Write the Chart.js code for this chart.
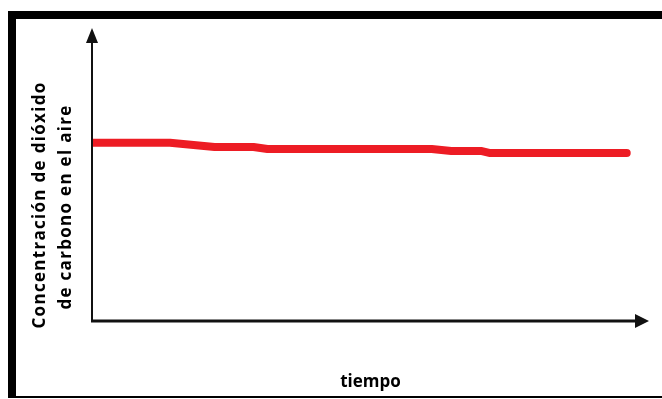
<!DOCTYPE html>
<html>
<head>
<meta charset="utf-8">
<script src="https://cdn.jsdelivr.net/npm/chart.js@4"></script>
<style>
  html, body { margin: 0; padding: 0; background: #fff; }
  canvas { display: block; }
</style>
</head>
<body>
<canvas id="myChart" width="662" height="399"></canvas>
<script>
// datos (escala 0-100, sin unidades)
const tiempo = [0, 14, 22, 29, 31.5, 61, 64.5, 70, 71.5, 96];
const concentracion = [60.8, 60.8, 59.4, 59.4, 58.7, 58.7, 58.0, 58.0, 57.3, 57.3];
const tituloY = ["Concentración de dióxido", "de carbono en el aire"];
const tituloX = "tiempo";

// marco negro, título vertical y ejes con flecha
const marcoYFlechas = {
    id: 'marcoYFlechas',
    beforeDraw: function (chart) {
        const ctx = chart.ctx;
        ctx.save();
        ctx.fillStyle = '#fff';
        ctx.fillRect(0, 0, chart.width, chart.height);
        ctx.fillStyle = '#000';
        ctx.fillRect(8, 11, chart.width - 8, 8);   // arriba
        ctx.fillRect(8, 11, 8, 387);               // izquierda
        ctx.fillRect(8, 396, chart.width - 8, 2);  // abajo

        // título del eje y, dos líneas giradas
        ctx.font = 'bold 17px "Open Sans"';
        ctx.letterSpacing = '1.3px';
        ctx.textAlign = 'center';
        ctx.textBaseline = 'middle';
        const centros = [[40, 205], [66, 207]];
        for (let i = 0; i < tituloY.length; i++) {
            ctx.save();
            ctx.translate(centros[i][0], centros[i][1]);
            ctx.rotate(-Math.PI / 2);
            ctx.fillText(tituloY[i], 0, 0);
            ctx.restore();
        }
        ctx.restore();
    },
    afterDatasetsDraw: function (chart) {
        const ctx = chart.ctx;
        const a = chart.chartArea;
        ctx.save();
        ctx.strokeStyle = '#111';
        ctx.fillStyle = '#111';
        // eje y
        ctx.lineWidth = 2;
        ctx.beginPath();
        ctx.moveTo(a.left, a.bottom + 1);
        ctx.lineTo(a.left, a.top + 12);
        ctx.stroke();
        ctx.beginPath();
        ctx.moveTo(a.left, a.top);
        ctx.lineTo(a.left - 6, a.top + 15);
        ctx.lineTo(a.left + 6, a.top + 15);
        ctx.closePath();
        ctx.fill();
        // eje x
        ctx.lineWidth = 3;
        ctx.beginPath();
        ctx.moveTo(a.left - 1, a.bottom);
        ctx.lineTo(a.right - 12, a.bottom);
        ctx.stroke();
        ctx.beginPath();
        ctx.moveTo(a.right, a.bottom);
        ctx.lineTo(a.right - 14, a.bottom - 7);
        ctx.lineTo(a.right - 14, a.bottom + 7);
        ctx.closePath();
        ctx.fill();
        ctx.restore();
    }
};

let ctx = document.getElementById('myChart').getContext('2d');
let myChart = new Chart(ctx, {
    type: 'line',
    data: {
        labels: tiempo,
        datasets: [{
            data: tiempo.map(function (t, i) { return { x: t, y: concentracion[i] }; }),
            borderColor: '#ED1C24',
            borderWidth: 8,
            borderCapStyle: 'round',
            borderJoinStyle: 'round',
            pointRadius: 0,
            tension: 0,
            fill: false
        }]
    },
    options: {
        responsive: false,
        animation: false,
        layout: { padding: { top: 28, right: 13, bottom: 0, left: 92 } },
        plugins: {
            legend: { display: false },
            tooltip: { enabled: false }
        },
        scales: {
            x: {
                type: 'linear',
                min: 0,
                max: 100,
                ticks: { display: false },
                grid: { display: false, drawTicks: false },
                border: { display: false },
                title: {
                    display: true,
                    text: tituloX,
                    color: '#000',
                    align: 'center',
                    font: { family: 'Open Sans', size: 17, weight: 'bold', lineHeight: 1.2 },
                    padding: { top: 51.2, bottom: 6.4 }
                }
            },
            y: {
                min: 0,
                max: 100,
                ticks: { display: false },
                grid: { display: false, drawTicks: false },
                border: { display: false },
                title: { display: false }
            }
        }
    },
    plugins: [marcoYFlechas]
});
</script>
</body>
</html>
